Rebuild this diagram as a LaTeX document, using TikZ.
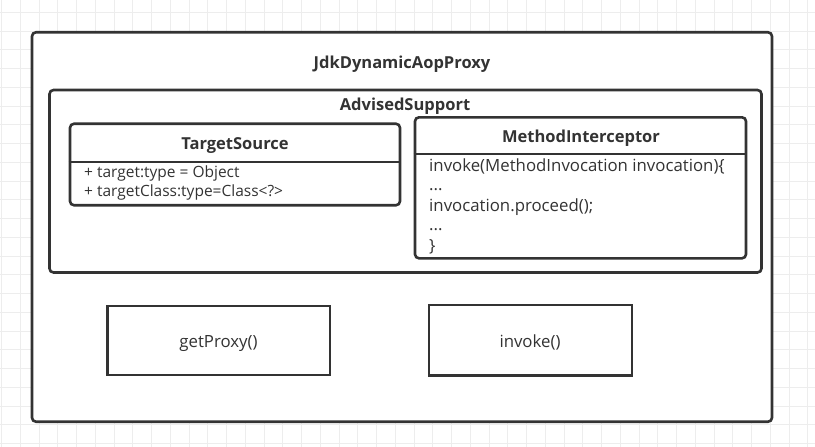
\documentclass[tikz,border=0pt]{standalone}
\usepackage{fontspec}
\setmainfont{Open Sans}
\definecolor{ln}{HTML}{333333}
\definecolor{gridc}{HTML}{EDEDED}
\tikzset{
  frame/.style={draw=ln, fill=white, line width=2.6pt, rounded corners=4pt},
  plainbox/.style={draw=ln, fill=white, line width=2.6pt},
  divider/.style={draw=ln, line width=2pt},
  ttl/.style={font=\fontsize{16.5}{19}\selectfont\bfseries, text=ln, inner sep=0pt, anchor=base},
  tstxt/.style={font=\fontsize{15.5}{18}\selectfont, text=ln, inner sep=0pt, anchor=base west},
  txt/.style={font=\fontsize{16.8}{19}\selectfont, text=ln, inner sep=0pt, anchor=base west},
  ctxt/.style={font=\fontsize{16.8}{19}\selectfont, text=ln, inner sep=0pt, anchor=base},
}
\begin{document}
\begin{tikzpicture}[x=1pt,y=-1pt]
\useasboundingbox (0,0) rectangle (815,447);
\fill[white] (0,0) rectangle (815,447);
\foreach \i in {0,...,43} \draw[gridc, line width=1pt] ({1.5+18.75*\i},0) -- ++(0,447);
\foreach \j in {0,...,24} \draw[gridc, line width=1pt] (0,{-6.45+18.75*\j}) -- ++(815,0);
% outer
\node[frame, minimum width=740pt, minimum height=389.5pt] (proxy) at (402,227) {};
\node[ttl] (proxyT) at (402,68.7) {JdkDynamicAopProxy};
% advised support
\node[frame, minimum width=712pt, minimum height=182.5pt] (adv) at (405.5,181.25) {};
\node[ttl] (advT) at (405,110.3) {AdvisedSupport};
% target source
\node[frame, minimum width=330pt, minimum height=81.5pt] (ts) at (235,164.5) {};
\node[ttl] (tsT) at (235,149.3) {TargetSource};
\draw[divider] (ts.west |- 0,161.7) -- (ts.east |- 0,161.7);
\node[tstxt] (ts1) at (84,177.3) {+ target:type = Object};
\node[tstxt] (ts2) at (84,196.7) {+ targetClass:type=Class<?>};
% method interceptor
\node[frame, minimum width=331pt, minimum height=141pt] (mi) at (580.5,187.8) {};
\node[ttl] (miT) at (581,142) {MethodInterceptor};
\draw[divider] (mi.west |- 0,154.3) -- (mi.east |- 0,154.3);
\node[txt] (mi1) at (429,171) {invoke(MethodInvocation invocation)\{};
\node[txt] (mi2) at (429,190.5) {...};
\node[txt] (mi3) at (429,211) {invocation.proceed();};
\node[txt] (mi4) at (429,230.5) {...};
\node[txt] (mi5) at (429,251) {\}};
% bottom boxes
\node[plainbox, minimum width=222.7pt, minimum height=69pt] (gp) at (218.6,340.5) {};
\node[ctxt] (gpT) at (218.5,347) {getProxy()};
\node[plainbox, minimum width=203pt, minimum height=70.5pt] (inv) at (530.4,340.4) {};
\node[ctxt] (invT) at (530,347) {invoke()};
\end{tikzpicture}
\end{document}
